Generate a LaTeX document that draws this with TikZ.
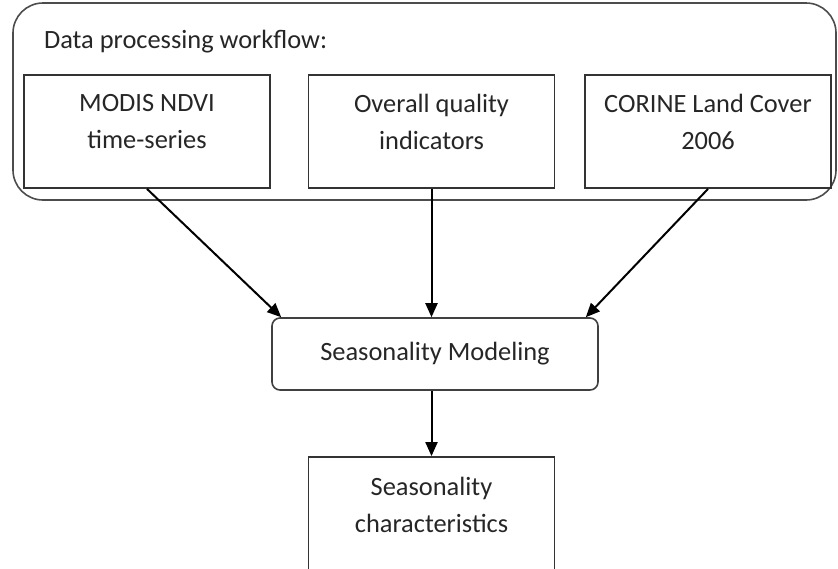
\documentclass[tikz,border=0pt]{standalone}
\usepackage{fontspec}
\setmainfont{Carlito}
\usepackage{tikz}
\usetikzlibrary{arrows.meta}
\usetikzlibrary{positioning}
\usetikzlibrary{calc}

\begin{document}
\begin{tikzpicture}[%
  x=0.5pt, y=-0.5pt,
  font=\fontsize{13.2}{18.5}\selectfont,
  flowarrow/.style={-{Triangle[length=7pt,width=6pt]}, draw=black, line width=1pt},
  group/.style={draw=black!70, line width=0.8pt, rounded corners=15pt},
  inbox/.style={draw=black!80, line width=0.9pt, minimum width=123pt, minimum height=56.5pt, inner sep=0pt},
  step box/.style={draw=black!75, line width=0.8pt, rounded corners=4pt, minimum width=163pt, minimum height=36pt},
  label text/.style={align=center, text=black!85}
  ]
  \useasboundingbox (0,0) rectangle (838,568);
  \clip (0,0) rectangle (838,568);

  % Draw the workflow group with its title
  \node[group, minimum width=411.5pt, minimum height=98.5pt] (flow) at (424.5,101.5) {};
  \node[label text, anchor=west] (title) at (37,42) {Data processing workflow:};

  % Draw the three input boxes
  \node[inbox] (modis) at (147,131.5) {};
  \node[inbox] (quality) at (431.5,131.5) {};
  \node[inbox] (corine) at (708,131.5) {};
  \node[label text] at (147,122) {MODIS NDVI\\time-series};
  \node[label text] at (431.5,122) {Overall quality\\indicators};
  \node[label text] at (708,122) {CORINE Land Cover\\2006};

  % Draw the modeling step and its result
  \node[step box, label text] (model) at (435,354) {Seasonality Modeling};
  \node[inbox, minimum height=100pt] (chars) at (431.5,557) {};
  \node[label text] at (431.5,505) {Seasonality\\characteristics};

  % Connect the inputs with the modeling step
  \draw[flowarrow] (modis.south) -- ([xshift=5pt]model.north west);
  \draw[flowarrow] (quality.south) -- (quality.south |- model.north);
  \draw[flowarrow] (corine.south) -- ([xshift=-6.5pt]model.north east);
  \draw[flowarrow] (model.south -| chars.north) -- (chars.north);
\end{tikzpicture}
\end{document}
